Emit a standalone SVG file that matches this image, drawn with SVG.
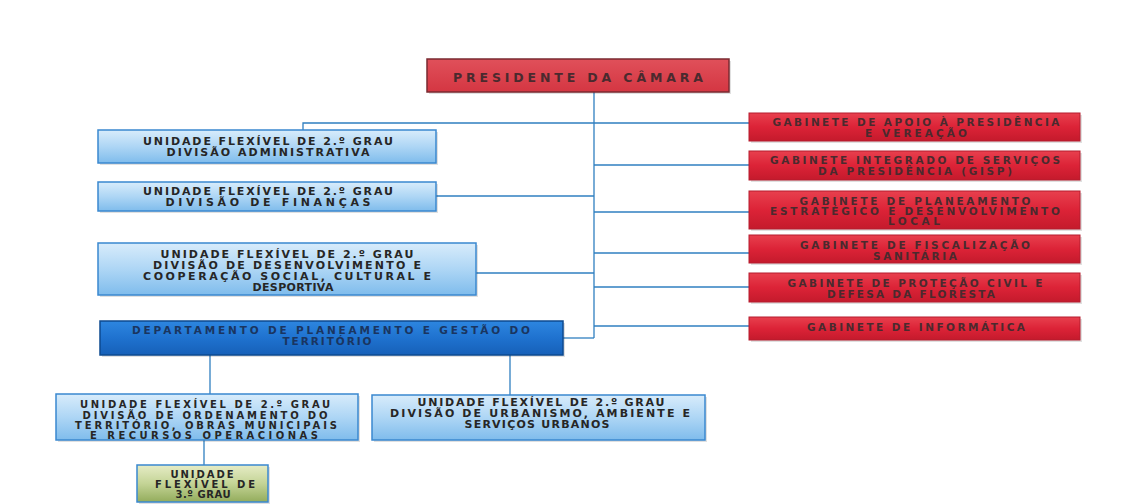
<svg xmlns="http://www.w3.org/2000/svg" width="1144" height="504" viewBox="0 0 1144 504">
<defs>
<linearGradient id="gBlue" x1="0" y1="0" x2="0" y2="1"><stop offset="0" stop-color="#d8ecfb"/><stop offset="0.5" stop-color="#aed6f5"/><stop offset="1" stop-color="#7fbcec"/></linearGradient>
<linearGradient id="gRed" x1="0" y1="0" x2="0" y2="1"><stop offset="0" stop-color="#e8404e"/><stop offset="0.5" stop-color="#dc2337"/><stop offset="1" stop-color="#c41a2c"/></linearGradient>
<linearGradient id="gPres" x1="0" y1="0" x2="0" y2="1"><stop offset="0" stop-color="#e0505a"/><stop offset="1" stop-color="#d43642"/></linearGradient>
<linearGradient id="gDept" x1="0" y1="0" x2="0" y2="1"><stop offset="0" stop-color="#2d86e0"/><stop offset="0.5" stop-color="#1f72cf"/><stop offset="1" stop-color="#1660b8"/></linearGradient>
<linearGradient id="gGreen" x1="0" y1="0" x2="0" y2="1"><stop offset="0" stop-color="#e6ecc6"/><stop offset="0.5" stop-color="#c4d496"/><stop offset="1" stop-color="#93ac5c"/></linearGradient>
</defs>
<style>
text{font-family:"DejaVu Sans","Liberation Sans",Arial,sans-serif;font-weight:bold;font-size:11px;text-anchor:middle}
.blue{fill:url(#gBlue);stroke:#3a88cf;stroke-width:1.5}
.red{fill:url(#gRed);stroke:#b51c2e;stroke-width:1}
.pres{fill:url(#gPres);stroke:#7a2a30;stroke-width:1.5}
.dept{fill:url(#gDept);stroke:#0c4a90;stroke-width:1.5}
.green{fill:url(#gGreen);stroke:#3a88cf;stroke-width:1.5}
.shadow{fill:#000;opacity:0.12}
.tb{fill:#262626}
.sm{font-size:10px}
.tr{fill:#4a2a2e;font-size:10.5px}
.td{fill:#1a3560;font-size:10.5px}
.conn{fill:none;stroke:#2f7fc0;stroke-width:1.3}
</style>
<rect width="1144" height="504" fill="#ffffff"/>
<g id="connectors">
<path class="conn" d="M594 92 V338"/>
<path class="conn" d="M303 130 V123 H749"/>
<path class="conn" d="M436 196 H594"/>
<path class="conn" d="M476 273 H594"/>
<path class="conn" d="M563 338 H594"/>
<path class="conn" d="M594 165 H749"/>
<path class="conn" d="M594 212 H749"/>
<path class="conn" d="M594 253 H749"/>
<path class="conn" d="M594 287 H749"/>
<path class="conn" d="M594 326 H749"/>
<path class="conn" d="M210 355 V394"/>
<path class="conn" d="M510 355 V395"/>
<path class="conn" d="M204 440 V465"/>
</g>
<g id="presidente">
<rect class="shadow" x="429" y="61" width="302" height="33"/>
<rect class="pres" x="427" y="59" width="302" height="33"/>
<text class="tr" x="578" y="82" style="font-size:12.5px" textLength="250" lengthAdjust="spacing">PRESIDENTE DA CÂMARA</text>
</g>
<g id="div-administrativa">
<rect class="shadow" x="100" y="132" width="338" height="33"/>
<rect class="blue" x="98" y="130" width="338" height="33"/>
<text class="tb" x="268" y="145" textLength="250" lengthAdjust="spacing">UNIDADE FLEXÍVEL DE 2.º GRAU</text>
<text class="tb" x="268" y="156" textLength="203" lengthAdjust="spacing">DIVISÃO ADMINISTRATIVA</text>
</g>
<g id="div-financas">
<rect class="shadow" x="100" y="184" width="338" height="29"/>
<rect class="blue" x="98" y="182" width="338" height="29"/>
<text class="tb" x="268" y="195" textLength="250" lengthAdjust="spacing">UNIDADE FLEXÍVEL DE 2.º GRAU</text>
<text class="tb" x="268" y="206" textLength="205" lengthAdjust="spacing">DIVISÃO DE FINANÇAS</text>
</g>
<g id="div-desenvolvimento">
<rect class="shadow" x="100" y="245" width="378" height="52"/>
<rect class="blue" x="98" y="243" width="378" height="52"/>
<text class="tb" x="287" y="258" textLength="253" lengthAdjust="spacing">UNIDADE FLEXÍVEL DE 2.º GRAU</text>
<text class="tb" x="287" y="269" textLength="268" lengthAdjust="spacing">DIVISÃO DE DESENVOLVIMENTO E</text>
<text class="tb" x="287" y="280" textLength="288" lengthAdjust="spacing">COOPERAÇÃO SOCIAL, CULTURAL E</text>
<text class="tb" x="293" y="291" textLength="81" lengthAdjust="spacing">DESPORTIVA</text>
</g>
<g id="departamento">
<rect class="shadow" x="102" y="323" width="463" height="34"/>
<rect class="dept" x="100" y="321" width="463" height="34"/>
<text class="td" x="331" y="334" textLength="398" lengthAdjust="spacing">DEPARTAMENTO DE PLANEAMENTO E GESTÃO DO</text>
<text class="td" x="327" y="345" textLength="89" lengthAdjust="spacing">TERRITÓRIO</text>
</g>
<g id="div-ordenamento">
<rect class="shadow" x="58" y="396" width="302" height="46"/>
<rect class="blue" x="56" y="394" width="302" height="46"/>
<text class="tb sm" x="205" y="408" textLength="250" lengthAdjust="spacing">UNIDADE FLEXÍVEL DE 2.º GRAU</text>
<text class="tb sm" x="205" y="419" textLength="245" lengthAdjust="spacing">DIVISÃO DE ORDENAMENTO DO</text>
<text class="tb sm" x="206" y="429" textLength="262" lengthAdjust="spacing">TERRITÓRIO, OBRAS MUNICIPAIS</text>
<text class="tb sm" x="204" y="439" textLength="228" lengthAdjust="spacing">E RECURSOS OPERACIONAS</text>
</g>
<g id="div-urbanismo">
<rect class="shadow" x="374" y="397" width="333" height="45"/>
<rect class="blue" x="372" y="395" width="333" height="45"/>
<text class="tb" x="541" y="406" textLength="247" lengthAdjust="spacing">UNIDADE FLEXÍVEL DE 2.º GRAU</text>
<text class="tb" x="540" y="417" textLength="300" lengthAdjust="spacing">DIVISÃO DE URBANISMO, AMBIENTE E</text>
<text class="tb" x="537" y="428" textLength="145" lengthAdjust="spacing">SERVIÇOS URBANOS</text>
</g>
<g id="unidade-3-grau">
<rect class="shadow" x="139" y="467" width="131" height="37"/>
<rect class="green" x="137" y="465" width="131" height="37"/>
<text class="tb sm" x="202" y="478" textLength="63" lengthAdjust="spacing">UNIDADE</text>
<text class="tb sm" x="205" y="488" textLength="100" lengthAdjust="spacing">FLEXÍVEL DE</text>
<text class="tb sm" x="203" y="498" textLength="55" lengthAdjust="spacing">3.º GRAU</text>
</g>
<g id="gab-apoio">
<rect class="shadow" x="751" y="115" width="331" height="28"/>
<rect class="red" x="749" y="113" width="331" height="28"/>
<text class="tr" x="916" y="126" textLength="287" lengthAdjust="spacing">GABINETE DE APOIO À PRESIDÊNCIA</text>
<text class="tr" x="916" y="136.5" textLength="102" lengthAdjust="spacing">E VEREAÇÃO</text>
</g>
<g id="gab-gisp">
<rect class="shadow" x="751" y="153" width="331" height="29"/>
<rect class="red" x="749" y="151" width="331" height="29"/>
<text class="tr" x="915" y="164" textLength="290" lengthAdjust="spacing">GABINETE INTEGRADO DE SERVIÇOS</text>
<text class="tr" x="915" y="175" textLength="194" lengthAdjust="spacing">DA PRESIDÊNCIA (GISP)</text>
</g>
<g id="gab-planeamento">
<rect class="shadow" x="751" y="193" width="331" height="38"/>
<rect class="red" x="749" y="191" width="331" height="38"/>
<text class="tr" x="915" y="205" textLength="231" lengthAdjust="spacing">GABINETE DE PLANEAMENTO</text>
<text class="tr" x="915" y="215" textLength="290" lengthAdjust="spacing">ESTRATÉGICO E DESENVOLVIMENTO</text>
<text class="tr" x="914" y="225" textLength="52" lengthAdjust="spacing">LOCAL</text>
</g>
<g id="gab-fiscalizacao">
<rect class="shadow" x="751" y="237" width="331" height="28"/>
<rect class="red" x="749" y="235" width="331" height="28"/>
<text class="tr" x="915" y="249" textLength="230" lengthAdjust="spacing">GABINETE DE FISCALIZAÇÃO</text>
<text class="tr" x="915" y="259.5" textLength="84" lengthAdjust="spacing">SANITÁRIA</text>
</g>
<g id="gab-protecao">
<rect class="shadow" x="751" y="275" width="331" height="29"/>
<rect class="red" x="749" y="273" width="331" height="29"/>
<text class="tr" x="915" y="287" textLength="255" lengthAdjust="spacing">GABINETE DE PROTEÇÃO CIVIL E</text>
<text class="tr" x="911" y="297.5" textLength="168" lengthAdjust="spacing">DEFESA DA FLORESTA</text>
</g>
<g id="gab-informatica">
<rect class="shadow" x="751" y="319" width="331" height="23"/>
<rect class="red" x="749" y="317" width="331" height="23"/>
<text class="tr" x="916" y="331" textLength="218" lengthAdjust="spacing">GABINETE DE INFORMÁTICA</text>
</g>
</svg>
